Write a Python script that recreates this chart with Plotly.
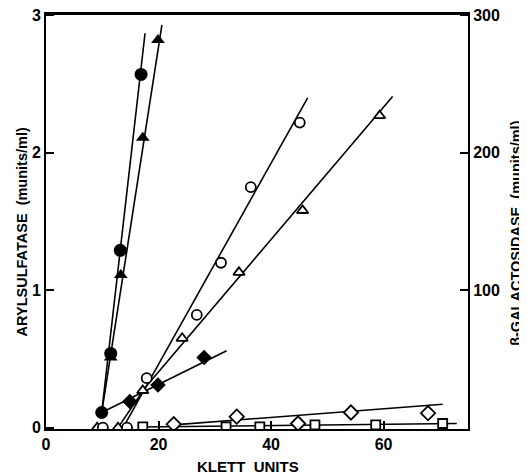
import plotly.graph_objects as go

# ---- data (x = Klett units) ----
# Arylsulfatase (munits/ml), filled symbols, left axis
circ_fill_x = [9.9, 11.5, 13.2, 16.9]
circ_fill_y = [0.11, 0.54, 1.29, 2.57]
circ_fill_line_x = [9.9, 17.6]
circ_fill_line_y = [0.11, 2.87]

tri_fill_x = [11.5, 13.3, 17.2, 19.9]
tri_fill_y = [0.51, 1.11, 2.11, 2.82]
tri_fill_line_x = [9.9, 20.6]
tri_fill_line_y = [0.11, 2.93]

dia_fill_x = [14.9, 19.9, 28.1]
dia_fill_y = [0.19, 0.31, 0.51]
dia_fill_line_x = [9.9, 32.1]
dia_fill_line_y = [0.11, 0.56]

# beta-galactosidase (munits/ml), open symbols, right axis
circ_open_x = [10.1, 14.4, 17.9, 26.8, 31.1, 36.4, 45.1]
circ_open_y = [0, 0, 36, 82, 120, 175, 222]
circ_open_line_x = [13.7, 46.5]
circ_open_line_y = [0, 240]

tri_open_x = [9.1, 12.8, 17.2, 24.2, 34.3, 45.6, 59.3]
tri_open_y = [0, 0, 27, 65, 113, 158, 227]
tri_open_line_x = [12.8, 17.6, 61.6]
tri_open_line_y = [0, 29, 241]

dia_open_x = [22.7, 33.9, 44.8, 54.2, 67.9]
dia_open_y = [2.5, 8, 3, 11, 10.5]
dia_open_line_x = [22.7, 70.5]
dia_open_line_y = [2, 17]

sq_open_x = [17.2, 32.0, 38.0, 47.8, 58.6, 70.5]
sq_open_y = [0.5, 0.5, 0.5, 2, 2, 3]
sq_open_line_x = [17.2, 73.0]
sq_open_line_y = [0.5, 3]

x_ticks = [0, 20, 40, 60]
y_ticks = [0, 1, 2, 3]
y2_ticks = [100, 200, 300]

FONT = "Liberation Sans"
LW = 1.6

fig = go.Figure()

def add_line(x, y, axis):
    fig.add_trace(go.Scatter(x=x, y=y, mode="lines", yaxis=axis,
                             line=dict(color="black", width=LW),
                             showlegend=False, hoverinfo="skip"))

def add_markers(x, y, axis, symbol, size, filled):
    fig.add_trace(go.Scatter(
        x=x, y=y, mode="markers", yaxis=axis, showlegend=False,
        marker=dict(symbol=symbol, size=size,
                    color="black" if filled else "white",
                    line=dict(color="black", width=0 if filled else 1.8))))

# lines
add_line(circ_fill_line_x, circ_fill_line_y, "y")
add_line(tri_fill_line_x, tri_fill_line_y, "y")
add_line(dia_fill_line_x, dia_fill_line_y, "y")
add_line(circ_open_line_x, circ_open_line_y, "y2")
add_line(tri_open_line_x, tri_open_line_y, "y2")
add_line(dia_open_line_x, dia_open_line_y, "y2")
add_line(sq_open_line_x, sq_open_line_y, "y2")

# markers
add_markers(dia_fill_x, dia_fill_y, "y", "diamond", 12, True)
add_markers(tri_fill_x, tri_fill_y, "y", "triangle-up", 12, True)
add_markers(circ_fill_x, circ_fill_y, "y", "circle", 13, True)
add_markers(sq_open_x, sq_open_y, "y2", "square", 9, False)
add_markers(dia_open_x, dia_open_y, "y2", "diamond", 11, False)
add_markers(tri_open_x, tri_open_y, "y2", "triangle-up", 10, False)
add_markers(circ_open_x, circ_open_y, "y2", "circle", 10, False)

axis_common = dict(showgrid=False, zeroline=False, showline=True, automargin=False,
                   linecolor="black", linewidth=2, ticks="inside",
                   ticklen=8, tickwidth=1.6, tickcolor="black",
                   ticklabeloverflow="allow",
                   tickfont=dict(family=FONT, size=16, color="black", weight="bold"))

# the page body adds an 8 px offset, so the figure is sized to fit the window
fig.update_layout(
    template="none",
    width=519, height=467,
    margin=dict(l=38, r=59, t=6, b=46, autoexpand=False),
    paper_bgcolor="white", plot_bgcolor="white",
    xaxis=dict(range=[0, 75], tickvals=x_ticks, mirror=True, **axis_common),
    yaxis=dict(range=[-0.01, 3.01], tickvals=y_ticks, mirror=False, **axis_common),
    yaxis2=dict(range=[-1, 301], tickvals=y2_ticks, overlaying="y", side="right",
                **axis_common),
    shapes=[dict(type="line", xref="paper", yref="paper", x0=0, x1=1, y0=1, y1=1,
                 line=dict(color="black", width=2))],
    annotations=[
        dict(text="ARYLSULFATASE  (munits/ml)", textangle=-90, xref="paper", yref="paper",
             x=-0.058, y=0.475, showarrow=False, xanchor="center", yanchor="middle",
             font=dict(family=FONT, size=14.5, color="black", weight="bold")),
        dict(text="β-GALACTOSIDASE  (munits/ml)", textangle=-90, xref="paper", yref="paper",
             x=1.113, y=0.472, showarrow=False, xanchor="center", yanchor="middle",
             font=dict(family=FONT, size=14.5, color="black", weight="bold")),
        dict(text="KLETT  UNITS", xref="paper", yref="paper",
             x=0.479, y=-0.091, showarrow=False, xanchor="center", yanchor="middle",
             font=dict(family=FONT, size=15, color="black", weight="bold")),
    ],
)

fig.write_html("out.html")
